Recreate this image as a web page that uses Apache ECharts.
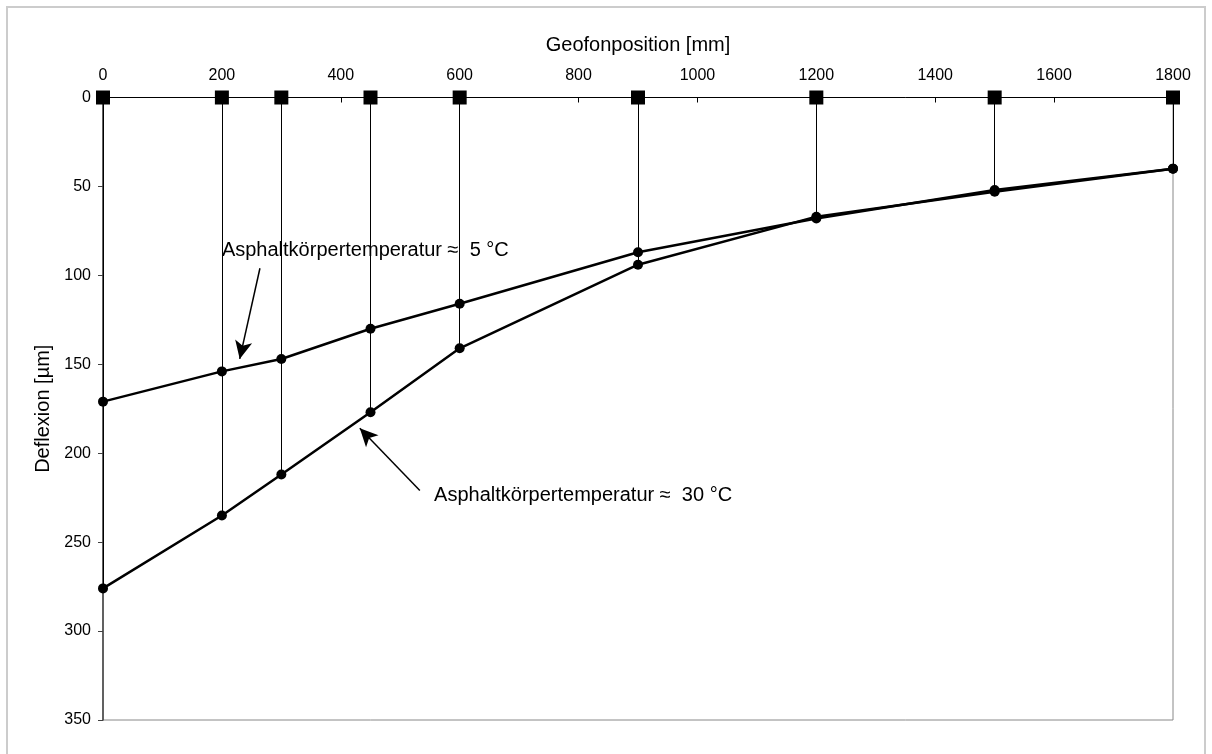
<!DOCTYPE html>
<html>
<head>
<meta charset="utf-8">
<script src="https://cdn.jsdelivr.net/npm/echarts@6/dist/echarts.min.js"></script>
<style>
html,body{margin:0;padding:0;background:#fff;}
#chart{width:1212px;height:754px;}
</style>
</head>
<body>
<div id="chart"></div>
<script>
// Geophone positions [mm]
const positions = [0, 200, 300, 450, 600, 900, 1200, 1500, 1800];
// Deflection [µm] at asphalt temperature ≈ 5 °C
const deflection5C = [171, 154, 147, 130, 116, 87, 68, 52, 40];
// Deflection [µm] at asphalt temperature ≈ 30 °C
const deflection30C = [276, 235, 212, 177, 141, 94, 67, 53, 40];
// Annotation labels and positions (data coordinates)
const label5C = 'Asphaltkörpertemperatur ≈  5 °C';
const label30C = 'Asphaltkörpertemperatur ≈  30 °C';
const labelPos5C = [200, 86];
const labelPos30C = [557, 224];
const arrow5C = [[264, 96], [230, 147]];
const arrow30C = [[533, 221], [432, 186]];

const font = 'Liberation Sans, Arial, sans-serif';
const chart = echarts.init(document.getElementById('chart'));

const dropLines = positions.map((p, i) => [
  {coord: [p, 0]},
  {coord: [p, Math.max(deflection5C[i], deflection30C[i])]}
]);

chart.setOption({
  animation: false,
  backgroundColor: '#fff',
  graphic: [{
    type: 'rect',
    shape: {x: 7, y: 7, width: 1198, height: 780},
    style: {fill: 'none', stroke: '#cccccc', lineWidth: 2},
    silent: true
  }],
  grid: {
    left: 103, right: 39, top: 97.5, bottom: 34,
    show: true, borderColor: '#888888', borderWidth: 1, backgroundColor: 'transparent'
  },
  xAxis: {
    type: 'value', position: 'top', min: 0, max: 1800, interval: 200,
    name: 'Geofonposition [mm]', nameLocation: 'middle', nameGap: 42,
    nameTextStyle: {fontFamily: font, fontSize: 20, color: '#000'},
    axisLine: {show: true, onZero: false, lineStyle: {color: '#000', width: 1}},
    axisTick: {show: true, inside: true, length: 5, lineStyle: {color: '#000'}},
    axisLabel: {fontFamily: font, fontSize: 16, color: '#000', margin: 14, formatter: v => String(v)},
    splitLine: {show: false}
  },
  yAxis: {
    type: 'value', inverse: true, min: 0, max: 350, interval: 50,
    name: 'Deflexion [µm]', nameLocation: 'middle', nameGap: 50,
    nameTextStyle: {fontFamily: font, fontSize: 20, color: '#000'},
    axisLine: {show: true, onZero: false, lineStyle: {color: '#404040', width: 1.5}},
    axisTick: {show: true, inside: false, length: 5, lineStyle: {color: '#404040'}},
    axisLabel: {fontFamily: font, fontSize: 16, color: '#000', margin: 12, formatter: v => String(v)},
    splitLine: {show: false}
  },
  series: [
    {
      type: 'line', name: 'drops', data: [], silent: true,
      markLine: {
        silent: true, symbol: ['none', 'none'], animation: false,
        lineStyle: {color: '#000', width: 1, type: 'solid'},
        label: {show: false},
        data: dropLines
      }
    },
    {
      type: 'line', name: '5 °C',
      data: positions.map((p, i) => [p, deflection5C[i]]),
      symbol: 'circle', symbolSize: 10, clip: false,
      lineStyle: {color: '#000', width: 2.5},
      itemStyle: {color: '#000', opacity: 1},
      z: 5
    },
    {
      type: 'line', name: '30 °C',
      data: positions.map((p, i) => [p, deflection30C[i]]),
      symbol: 'circle', symbolSize: 10, clip: false,
      lineStyle: {color: '#000', width: 2.5},
      itemStyle: {color: '#000', opacity: 1},
      z: 5
    },
    {
      type: 'scatter', name: 'geophones',
      data: positions.map(p => [p, 0]),
      symbol: 'rect', symbolSize: 14, clip: false,
      itemStyle: {color: '#000', opacity: 1},
      z: 6
    },
    {
      type: 'scatter', name: 'labels',
      data: [
        {value: labelPos5C, name: label5C},
        {value: labelPos30C, name: label30C}
      ],
      symbolSize: 0, silent: true,
      itemStyle: {opacity: 1},
      label: {
        show: true, position: 'right', distance: 0, opacity: 1,
        formatter: p => p.name,
        fontFamily: font, fontSize: 20, color: '#000'
      },
      markLine: {
        silent: true, symbol: ['none', 'arrow'], symbolSize: [13, 18], animation: false,
        lineStyle: {color: '#000', width: 1.5, type: 'solid', opacity: 1},
        itemStyle: {color: '#000', opacity: 1},
        label: {show: false},
        data: [
          [{coord: arrow5C[0]}, {coord: arrow5C[1]}],
          [{coord: arrow30C[0]}, {coord: arrow30C[1]}]
        ]
      },
      z: 7
    }
  ]
});
</script>
</body>
</html>
